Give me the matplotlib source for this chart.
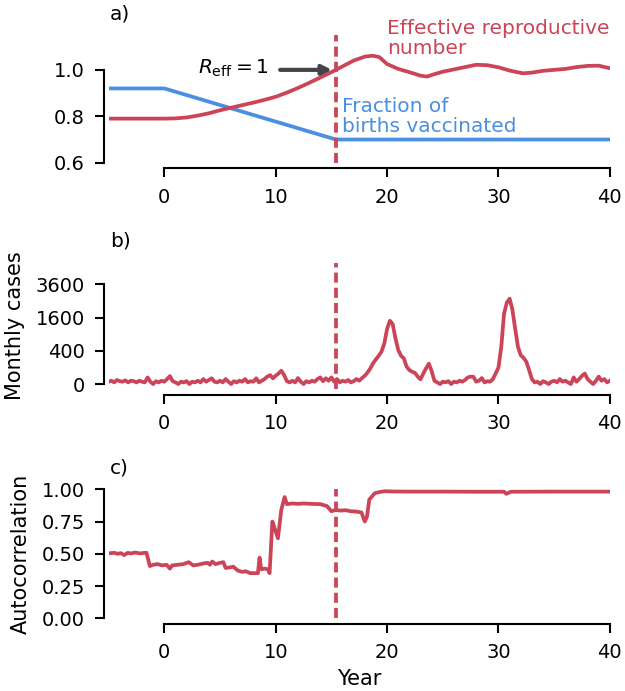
import numpy as np
import matplotlib
matplotlib.use("Agg")
import matplotlib.pyplot as plt

red = "#cc4457"
blue = "#4a8fe0"

# panel a
reff_years = [-5, 0, 1, 2, 3, 4, 5, 6, 7, 8, 9, 10, 11, 12, 13, 14, 15, 16, 17, 18,
              18.7, 19.3, 20, 21, 22, 23, 23.6, 24, 25, 26, 27, 28, 29, 30, 31,
              32.2, 33, 34, 35, 36, 37, 38, 39, 40]
reff_values = [0.790, 0.790, 0.791, 0.795, 0.803, 0.813, 0.826, 0.837, 0.848, 0.859,
               0.871, 0.884, 0.902, 0.922, 0.944, 0.967, 0.990, 1.015, 1.040, 1.057,
               1.061, 1.055, 1.025, 1.004, 0.990, 0.975, 0.971, 0.978, 0.992, 1.002,
               1.012, 1.022, 1.020, 1.011, 0.997, 0.985, 0.988, 0.996, 1.000, 1.004,
               1.012, 1.017, 1.018, 1.007]
vacc_years = [-5, 0, 15.4, 40]
vacc_frac = [0.92, 0.92, 0.70, 0.70]
threshold_year = 15.4

# panel b, one value every quarter year from -5 to 40
case_years = np.arange(-5, 40.01, 0.25)
cases = [2, 4, 1, 6, 3, 2, 5, 1, 4, 3, 1, 4, 2, 1, 16, 2, 0, 3, 1, 4,
         2, 9, 23, 3, 1, 0, 2, 1, 3, 0, 2, 1, 4, 1, 9, 2, 6, 12, 2, 1,
         4, 1, 9, 2, 0, 3, 1, 4, 2, 9, 1, 3, 2, 12, 1, 4, 9, 20, 29, 12,
         25, 40, 64, 30, 3, 1, 4, 1, 13, 2, 0, 3, 1, 4, 2, 9, 16, 3, 12, 4,
         16, 2, 9, 1, 4, 2, 6, 1, 3, 9, 4, 13, 25, 49, 90, 160, 220, 290, 380, 600,
         1100, 1450, 1300, 760, 420, 290, 240, 110, 70, 55, 45, 20, 8, 40, 90, 150, 60, 4, 1, 0,
         2, 1, 3, 0, 2, 1, 4, 2, 6, 16, 20, 19, 2, 4, 13, 1, 3, 2, 9, 41,
         100, 500, 1800, 2400, 2640, 2000, 1100, 500, 300, 250, 180, 70, 9, 1, 2, 0, 3, 1, 0, 2,
         4, 1, 9, 2, 4, 1, 0, 16, 2, 9, 25, 40, 9, 2, 0, 4, 20, 4, 9, 1,
         4]
case_ticks = [0, 400, 1600, 3600]

# panel c
acf_years = [-5, -4.5, -4.2, -3.9, -3.6, -3.3, -3.0, -2.6, -2.2, -1.8, -1.6, -1.3,
             -1.0, -0.6, -0.2, 0.2, 0.5, 0.7, 1.2, 1.7, 2.2, 2.6, 3.0, 3.5, 3.9,
             4.1, 4.3, 4.6, 5.0, 5.3, 5.5, 5.9, 6.2, 6.6, 7.0, 7.3, 7.7, 8.1, 8.4,
             8.55, 8.7, 9.0, 9.3, 9.45, 9.7, 9.9, 10.2, 10.5, 10.8, 11.0, 11.5, 12,
             12.5, 13, 13.5, 14.0, 14.6, 15.0, 15.4, 15.8, 16.3, 16.7, 17.2, 17.7,
             18.0, 18.2, 18.4, 18.9, 19.4, 19.8, 20.5, 22, 25, 28, 30.5, 30.7,
             31.1, 35, 40]
acf_values = [0.503, 0.508, 0.500, 0.505, 0.490, 0.507, 0.503, 0.510, 0.503, 0.507,
              0.508, 0.405, 0.415, 0.420, 0.410, 0.415, 0.385, 0.410, 0.415, 0.420,
              0.435, 0.410, 0.415, 0.425, 0.430, 0.415, 0.440, 0.420, 0.430, 0.435,
              0.390, 0.395, 0.400, 0.370, 0.360, 0.365, 0.350, 0.350, 0.350, 0.470,
              0.380, 0.385, 0.380, 0.350, 0.750, 0.700, 0.620, 0.840, 0.940, 0.885,
              0.890, 0.887, 0.890, 0.888, 0.886, 0.885, 0.870, 0.830, 0.840, 0.835,
              0.838, 0.830, 0.828, 0.820, 0.750, 0.790, 0.920, 0.970, 0.980, 0.985,
              0.983, 0.982, 0.982, 0.981, 0.981, 0.965, 0.981, 0.982, 0.982]

plt.rcParams["font.family"] = "DejaVu Sans"
plt.rcParams["font.size"] = 14.5
lw = 2.7

fig = plt.figure(figsize=(6.25, 6.91), dpi=100)
ax_a = fig.add_axes([0.1738, 0.7645, 0.802, 0.1848])
ax_b = fig.add_axes([0.1738, 0.4370, 0.802, 0.1828])
ax_c = fig.add_axes([0.1738, 0.1052, 0.802, 0.1867])


def style(ax, ybounds):
    ax.spines["top"].set_visible(False)
    ax.spines["right"].set_visible(False)
    ax.spines["left"].set_position(("outward", 3.1))
    ax.spines["bottom"].set_position(("outward", 4))
    ax.spines["left"].set_linewidth(1.5)
    ax.spines["bottom"].set_linewidth(1.5)
    ax.spines["left"].set_bounds(*ybounds)
    ax.spines["bottom"].set_bounds(0, 40)
    ax.set_xlim(-5, 40)
    ax.set_xticks([0, 10, 20, 30, 40])
    ax.tick_params(length=6.5, width=1.5, pad=7.5, labelsize=14)
    ax.axvline(threshold_year, color=red, lw=lw, dashes=(2.7, 1.35))


# a) reproductive number and vaccination
ax_a.plot(vacc_years, vacc_frac, color=blue, lw=lw)
ax_a.plot(reff_years, reff_values, color=red, lw=lw)
ax_a.set_ylim(0.6, 1.15)
ax_a.set_yticks([0.6, 0.8, 1.0])
style(ax_a, (0.6, 1.0))
ax_a.text(20.0, 1.134, "Effective reproductive\nnumber", color=red, ha="left",
          va="center", linespacing=1.1, clip_on=False)
ax_a.text(15.95, 0.80, "Fraction of\nbirths vaccinated", color=blue, ha="left",
          va="center", linespacing=1.08)
ax_a.text(9.4, 1.006, r"$R_{\rm eff} = 1$", ha="right", va="center")
ax_a.annotate("", xy=(15.05, 1.0), xytext=(10.4, 1.0),
              arrowprops=dict(arrowstyle="-|>", color="#444444", lw=3,
                              mutation_scale=14, shrinkA=0, shrinkB=0))

# b) monthly cases on a square-root axis
ax_b.plot(case_years, np.sqrt(cases), color=red, lw=lw)
ax_b.set_ylim(-3, 73)
ax_b.set_yticks(np.sqrt(case_ticks))
ax_b.set_yticklabels([str(t) for t in case_ticks])
style(ax_b, (0, 60))
ax_b.set_ylabel("Monthly cases", fontsize=15, labelpad=8)

# c) autocorrelation
ax_c.plot(acf_years, acf_values, color=red, lw=lw)
ax_c.set_ylim(0, 1.0)
ax_c.set_yticks([0, 0.25, 0.5, 0.75, 1.0])
ax_c.set_yticklabels(["0.00", "0.25", "0.50", "0.75", "1.00"])
style(ax_c, (0, 1.0))
ax_c.set_ylabel("Autocorrelation", fontsize=15, labelpad=8)
ax_c.set_xlabel("Year", fontsize=15)
ax_c.xaxis.set_label_coords(0.5, -0.392)

for ax, lab in [(ax_a, "a)"), (ax_b, "b)"), (ax_c, "c)")]:
    ax.annotate(lab, xy=(0, 1), xycoords="axes fraction", xytext=(1, 15.5),
                textcoords="offset points", ha="left", va="center")

fig.savefig("out.png", dpi=100)
